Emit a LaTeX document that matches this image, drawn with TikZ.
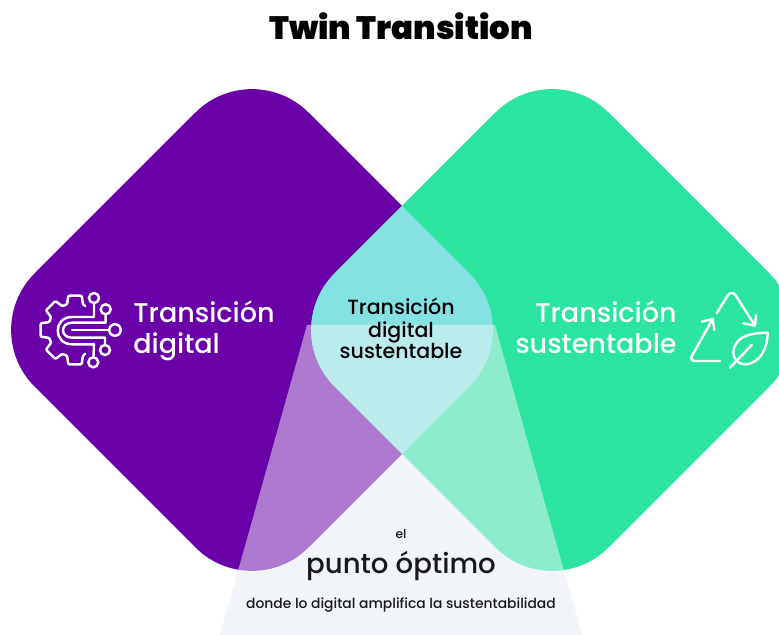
\documentclass[tikz,border=0pt]{standalone}
\usepackage{fontspec}
\setmainfont{Poppins Medium}
\newfontfamily\titlefont{Poppins Black}
\definecolor{digitalpurple}{HTML}{6A00A8}
\definecolor{sustgreen}{HTML}{2AE4A0}
\definecolor{lenscyan}{HTML}{84E2E2}
\definecolor{optimobg}{HTML}{F1F5F9}
\tikzset{
  iconline/.style={draw=white, line width=1.4pt, line join=round, line cap=round},
  icondot/.style={circle, draw=white, line width=1.4pt, inner sep=0pt, minimum size=2mm},
  bigdot/.style={icondot, minimum size=2.3mm},
  sidelabel/.style={text=white, font=\fontsize{15.4}{17.6}\selectfont, inner sep=0pt},
  lenslabel/.style={text=black, font=\fontsize{11.7}{12.5}\selectfont, inner sep=0pt, align=center},
  smalllabel/.style={text=black!90, inner sep=0pt, anchor=base},
}
\def\leftdiamond{(252,56) -- (526,330) -- (252,604) -- (-22,330) -- cycle}
\def\rightdiamond{(552,56) -- (826,330) -- (552,604) -- (278,330) -- cycle}
\def\optimozone{(307,325) -- (495,325) -- (582,635) -- (220,635) -- cycle}
\begin{document}
\begin{tikzpicture}[x=0.02cm, y=-0.02cm]
\useasboundingbox (0,0) rectangle (779,635);
\clip (0,0) rectangle (779,635);
\fill[white] (0,0) rectangle (779,635);
\fill[optimobg] \optimozone;
\fill[digitalpurple, rounded corners=1.6cm] \leftdiamond;
\fill[sustgreen, rounded corners=1.6cm] \rightdiamond;
\begin{scope}
  \clip[rounded corners=1.6cm] \leftdiamond;
  \fill[lenscyan, rounded corners=1.6cm] \rightdiamond;
\end{scope}
\fill[optimobg, opacity=0.5] \optimozone;

\node[anchor=base, inner sep=0pt, font=\titlefont\fontsize{18.4}{20}\selectfont] (title) at (401,40) {Twin Transition};

\node[sidelabel, anchor=base west] (digital1) at (133,323) {Transición};
\node[sidelabel, anchor=base west] (digital2) at (133,354) {digital};
\node[sidelabel, anchor=base east] (sust1) at (677,323) {Transición};
\node[sidelabel, anchor=base east] (sust2) at (677,354) {sustentable};
\node[lenslabel, anchor=base] (lens1) at (401,315) {Transición};
\node[lenslabel, anchor=base] (lens2) at (401,337.5) {digital};
\node[lenslabel, anchor=base] (lens3) at (401,359) {sustentable};

\node[smalllabel, font=\fontsize{7}{8}\selectfont] (el) at (401,539) {el};
\node[smalllabel, font=\fontsize{15.7}{18}\selectfont] (punto) at (401,574) {punto óptimo};
\node[smalllabel, font=\fontsize{7.9}{9}\selectfont] (donde) at (401,608) {donde lo digital amplifica la sustentabilidad};

\begin{scope}[shift={(75,330)}]
  \draw[iconline, rounded corners=0.6pt] (67:26) \foreach \a in {90,135,180,225,270} {
    -- (\a-17:27) -- (\a-11:35) -- (\a+11:35) -- (\a+17:27)
  } -- (-67:26);
\end{scope}
\node[icondot] (dot1) at (94,298) {};
\node[icondot] (dot2) at (105.7,309.3) {};
\node[bigdot] (dot3) at (115,330) {};
\node[icondot] (dot4) at (105,350) {};
\node[icondot] (dot5) at (93.3,362.3) {};
\draw[iconline] (dot1) -- (94,317) -- (72,317) .. controls (53,317) and (53,344.3) .. (72,344.3) -- (94,344.3) -- (dot5);
\draw[iconline] (dot2) -- (105.7,322.7) -- (72,322.7) .. controls (60,322.7) and (60,337.7) .. (72,337.7) -- (105,337.7) -- (dot4);
\draw[iconline] (dot3) -- (72,330);

\draw[iconline, rounded corners=1.6mm] (716.7,313.3) -- (731.7,289) -- (755,325.7);
\draw[iconline] (756,315) -- (755,325.7) -- (743.3,323.3);
\draw[iconline, rounded corners=1.2mm] (720,361) -- (689,361) -- (712.7,319);
\draw[iconline] (701.7,321.7) -- (712.7,319) -- (714.3,330);
\draw[iconline] (767.7,332.7) .. controls (750,333) and (738,336) .. (734,348) .. controls (731,360) and (740,365) .. (747,364.3) .. controls (760,362) and (767,350) .. (767.7,332.7);
\draw[iconline] (730,367.7) -- (751.7,345);
\end{tikzpicture}
\end{document}
